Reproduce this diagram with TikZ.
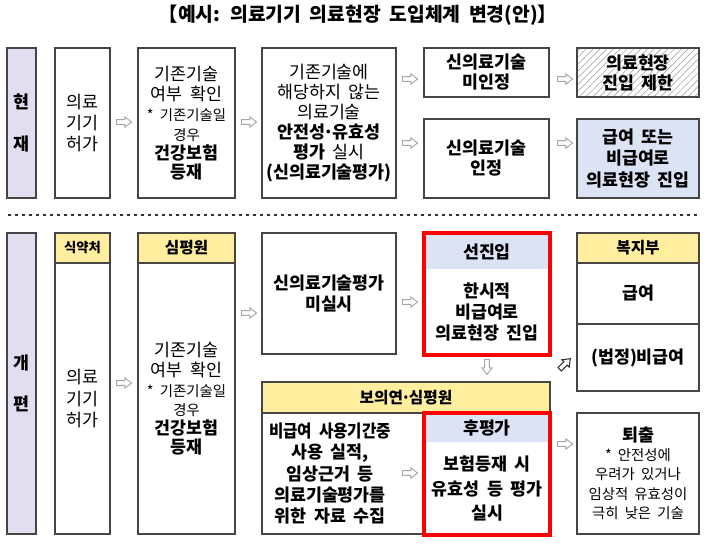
\documentclass[tikz,border=0pt]{standalone}
\usepackage{fontspec}
\usepackage{graphicx}
\setmainfont{Noto Sans CJK KR}[WordSpace=1.9]
\usetikzlibrary{patterns.meta}
\definecolor{lav}{HTML}{E4DDEF}
\definecolor{ylw}{HTML}{FFEE9E}
\definecolor{lblue}{HTML}{DCE3F4}
\definecolor{bordc}{HTML}{454545}
\newcommand{\fnorm}{\fontsize{13}{15}\selectfont}
\newcommand{\fsmall}{\fontsize{10.8}{13}\selectfont}
\newcommand{\fhead}{\fontsize{11.8}{13}\selectfont}
\newcommand{\mdot}{\kern-0.12em·\kern-0.12em}
\tikzset{
  harrow/.pic={\draw[draw=gray!70, fill=white, line width=0.7pt, line join=miter]
     (-7.5,-2.4) -- (0.8,-2.4) -- (0.8,-5.2) -- (7.5,0) -- (0.8,5.2) -- (0.8,2.4) -- (-7.5,2.4) -- cycle;},
  darrow/.pic={\draw[draw=black!80, fill=white, line width=0.8pt, line join=miter]
     (-7.5,-2.4) -- (0.8,-2.4) -- (0.8,-5.2) -- (7.5,0) -- (0.8,5.2) -- (0.8,2.4) -- (-7.5,2.4) -- cycle;}
}
\begin{document}
\begin{tikzpicture}[x=0.75pt,y=-0.75pt,
  every node/.style={inner sep=0pt, align=center, font=\fnorm},
  R/.style n args={4}{minimum width={(#3-#1)*0.75pt}, minimum height={(#4-#2)*0.75pt},
     at={({(#1+#3)/2},{(#2+#4)/2})}},
  box/.style={draw=bordc, line width=1.1pt, fill=white},
  lbl/.style={draw=bordc, line width=1.1pt, fill=lav, font=\fnorm\bfseries},
  hdr/.style={draw=bordc, line width=1.1pt, fill=ylw, font=\fhead\bfseries},
  bhdr/.style={draw=none, fill=lblue, font=\fnorm\bfseries},
  redbox/.style={draw=red, line width=2.3pt},
  plain/.style={draw=none},
  dotline/.style={line width=2pt, dash pattern=on 2pt off 3.25pt, black!80}
]
\useasboundingbox[fill=white] (0,0) rectangle (710,547);

\node[font=\fontsize{14.5}{16}\selectfont\bfseries] (title) at (358,15) {【예시: 의료기기 의료현장 도입체계 변경(안)】};

% ---------- current ----------
\node[lbl, R={7}{48}{36}{198}] (cur) {현\\[16pt]재};
\node[box, R={55}{48}{110}{198}] (a1) {의료\\[1pt]기기\\[1pt]허가};
\node[box, R={138}{48}{235}{198}] (a2) {기존기술\\여부 확인\\{\fsmall * 기존기술일}\\[-0.5pt]{\fsmall 경우}\\[-0.5pt]\textbf{건강보험}\\[-1pt]\textbf{등재}};
\node[box, R={262}{48}{396}{198}] (a3) {기존기술에\\해당하지 않는\\의료기술\\\textbf{안전성\mdot 유효성}\\\textbf{평가} 실시\\\textbf{(신의료기술평가)}};
\node[box, R={424}{48}{549}{97}, font=\fnorm\bfseries] (a4) {신의료기술\\미인정};
\node[box, R={577}{48}{699}{97}, pattern={Lines[angle=45,distance=3.6pt,line width=0.5pt]}, pattern color=gray!65, font=\fnorm\bfseries] (a5) {의료현장\\진입 제한};
\node[box, R={424}{119}{549}{198}, font=\fnorm\bfseries] (a6) {신의료기술\\인정};
\node[box, R={577}{119}{699}{198}, fill=lblue, font=\fnorm\bfseries] (a7) {급여 또는\\[1pt]비급여로\\[1pt]의료현장 진입};

\pic at (124,122) {harrow};
\pic at (249,122) {harrow};
\pic at (410,79) {harrow};
\pic at (410,143) {harrow};
\pic at (565,79) {harrow};
\pic at (565,143) {harrow};

% ---------- divider ----------
\coordinate (dl) at (8,215);
\coordinate (dr) at (698,215);
\draw[dotline] (dl) -- (dr);

% ---------- reform ----------
\node[lbl, R={7}{233}{36}{534}] (ref) {개\\[16pt]편};
\node[hdr, R={55}{233}{110}{263}, font=\fontsize{10}{11}\selectfont\bfseries] (b1h) {식약처};
\node[box, R={55}{263}{110}{534}] (b1) {의료\\[1pt]기기\\[1pt]허가};
\node[hdr, R={138}{233}{235}{263}] (b2h) {심평원};
\node[box, R={138}{263}{235}{534}] (b2) {기존기술\\여부 확인\\{\fsmall * 기존기술일}\\[-0.5pt]{\fsmall 경우}\\[-0.5pt]\textbf{건강보험}\\[-1pt]\textbf{등재}};
\node[box, R={262}{233}{396}{354}, font=\fnorm\bfseries] (b3) {신의료기술평가\\[1pt]미실시};

% pre-entry
\node[box, R={424}{233}{550}{355}] (b4o) {};
\node[bhdr, R={425}{234}{549}{269}] (b4h) {선진입};
\node[plain, R={424}{269}{550}{355}, font=\fnorm\bfseries] (b4) {한시적\\[1pt]비급여로\\[1pt]의료현장 진입};
\node[redbox, R={424}{233}{550}{355}] (b4r) {};

% ministry
\node[hdr, R={577}{233}{699}{263}] (b5h) {복지부};
\node[box, R={577}{263}{699}{324}, font=\fnorm\bfseries] (b5a) {급여};
\node[box, R={577}{324}{699}{391}, font=\fnorm\bfseries] (b5b) {(법정)비급여};

% NECA / HIRA
\node[box, R={262}{382}{550}{534}] (b6o) {};
\node[hdr, R={262}{382}{550}{413}] (b6h) {보의연\mdot 심평원};
\node[plain, R={262}{413}{398}{534}, font=\fnorm\bfseries] (b6) {\scalebox{0.9}[1]{비급여 사용기간중}\\[1pt]사용 실적,\\[1pt]임상근거 등\\[1pt]의료기술평가를\\[1pt]위한 자료 수집};

% post-evaluation
\node[box, R={424}{413}{550}{535}] (b7o) {};
\node[bhdr, R={425}{414}{549}{442}] (b7h) {후평가};
\node[plain, R={424}{442}{550}{535}, font=\fnorm\bfseries] (b7) {보험등재 시\\[3.5pt]유효성 등 평가\\[3.5pt]실시};
\node[redbox, R={424}{413}{550}{535}] (b7r) {};

% exit
\node[box, R={577}{413}{699}{534}] (b8) {\textbf{퇴출}\\[-1pt]{\fsmall * 안전성에}\\[-0.5pt]{\fsmall 우려가 있거나}\\[-0.5pt]{\fsmall 임상적 유효성이}\\[-0.5pt]{\fsmall 극히 낮은 기술}};

\pic at (124,383) {harrow};
\pic at (249,313) {harrow};
\pic at (410,302) {harrow};
\pic[rotate=-90] at (487,367) {harrow};
\pic[rotate=45] at (565,364) {darrow};
\pic at (410,473) {harrow};
\pic at (565,444) {harrow};
\end{tikzpicture}
\end{document}
